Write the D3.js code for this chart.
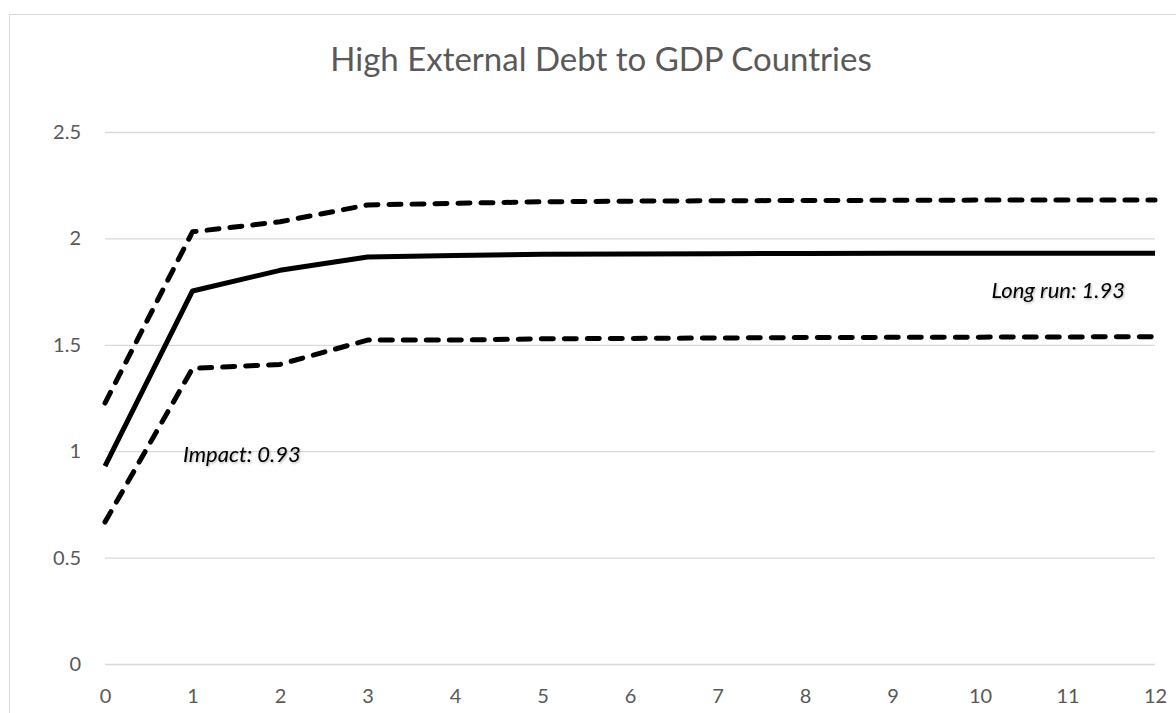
<!DOCTYPE html>
<html>
<head>
<meta charset="utf-8">
<script src="https://cdn.jsdelivr.net/npm/d3@7"></script>
<style>
  html, body { margin: 0; padding: 0; background: #fff; }
  svg { display: block; }
  text { font-family: Lato, "Open Sans", sans-serif; }
</style>
</head>
<body>
<svg id="chart" width="1176" height="713"></svg>
<script>
// Periods after the shock
const periods = [0, 1, 2, 3, 4, 5, 6, 7, 8, 9, 10, 11, 12];
// Cumulative response and its confidence band
const response = [0.93, 1.753, 1.85, 1.913, 1.92, 1.925, 1.927, 1.928, 1.929, 1.93, 1.93, 1.93, 1.93];
const upperBand = [1.226, 2.031, 2.078, 2.157, 2.165, 2.172, 2.175, 2.177, 2.178, 2.179, 2.18, 2.18, 2.18];
const lowerBand = [0.667, 1.389, 1.408, 1.522, 1.522, 1.528, 1.53, 1.532, 1.534, 1.535, 1.536, 1.537, 1.538];
// Axis ticks
const yTicks = [0, 0.5, 1, 1.5, 2, 2.5];
const yTickLabels = ["0", "0.5", "1", "1.5", "2", "2.5"];
const xTickLabels = ["0", "1", "2", "3", "4", "5", "6", "7", "8", "9", "10", "11", "12"];
// Annotations
const chartTitle = "High External Debt to GDP Countries";
const impactLabel = "Impact: 0.93";
const longRunLabel = "Long run: 1.93";

const svg = d3.select("#chart");

// Soft shadow used by the annotation labels
const defs = svg.append("defs");
const shadow = defs.append("filter").attr("id", "label-shadow")
  .attr("x", "-10%").attr("y", "-30%").attr("width", "120%").attr("height", "160%");
shadow.append("feDropShadow")
  .attr("dx", 1).attr("dy", 1.2).attr("stdDeviation", 1)
  .attr("flood-color", "#000").attr("flood-opacity", 0.3);

// Outer chart frame
svg.append("rect")
  .attr("x", 9.5).attr("y", 14.5)
  .attr("width", 1300).attr("height", 900)
  .attr("fill", "#fff")
  .attr("stroke", "#d9d9d9").attr("stroke-width", 1);

const x = d3.scaleLinear().domain([0, 12]).range([105, 1155]);
const y = d3.scaleLinear().domain([0, 2.5]).range([664, 132]);

// Horizontal gridlines and value labels
const yAxis = d3.axisLeft(y)
  .tickValues(yTicks)
  .tickFormat((d, i) => yTickLabels[i])
  .tickSize(-(x.range()[1] - x.range()[0]))
  .tickPadding(24);

const gy = svg.append("g")
  .attr("transform", `translate(${x.range()[0]},0)`)
  .call(yAxis);
gy.select(".domain").remove();
gy.selectAll(".tick line").attr("stroke", "#d9d9d9").attr("stroke-width", 1.3);
gy.selectAll(".tick text")
  .attr("fill", "#595959")
  .style("font-size", "20px")
  .style("font-family", "Lato, 'Open Sans', sans-serif");

// Period labels along the bottom
const xAxis = d3.axisBottom(x)
  .tickValues(periods)
  .tickFormat((d, i) => xTickLabels[i])
  .tickSize(0)
  .tickPadding(25);

const gx = svg.append("g")
  .attr("transform", `translate(0,${y(0)})`)
  .call(xAxis);
gx.select(".domain").remove();
gx.selectAll(".tick text")
  .attr("fill", "#595959")
  .style("font-size", "20px")
  .style("font-family", "Lato, 'Open Sans', sans-serif");

const line = d3.line()
  .x((d, i) => x(periods[i]))
  .y(d => y(d));

// Confidence band (dashed)
[upperBand, lowerBand].forEach(series => {
  svg.append("path")
    .datum(series)
    .attr("d", line)
    .attr("fill", "none")
    .attr("stroke", "#000")
    .attr("stroke-width", 5)
    .attr("stroke-linecap", "round")
    .attr("stroke-linejoin", "round")
    .attr("stroke-dasharray", "12 11");
});

// Point estimate (solid)
svg.append("path")
  .datum(response)
  .attr("d", line)
  .attr("fill", "none")
  .attr("stroke", "#000")
  .attr("stroke-width", 5)
  .attr("stroke-linejoin", "round");

// Title
svg.append("text")
  .attr("x", 601).attr("y", 71)
  .attr("text-anchor", "middle")
  .attr("fill", "#595959")
  .style("font-size", "33px")
  .text(chartTitle);

// Value annotations
svg.append("text")
  .attr("x", 183).attr("y", y(response[0]) - 4)
  .attr("fill", "#000")
  .attr("filter", "url(#label-shadow)")
  .style("font-size", "22px")
  .style("font-style", "italic")
  .text(impactLabel);

svg.append("text")
  .attr("x", 1125).attr("y", 298)
  .attr("text-anchor", "end")
  .attr("fill", "#000")
  .attr("filter", "url(#label-shadow)")
  .style("font-size", "22px")
  .style("font-style", "italic")
  .text(longRunLabel);
</script>
</body>
</html>
